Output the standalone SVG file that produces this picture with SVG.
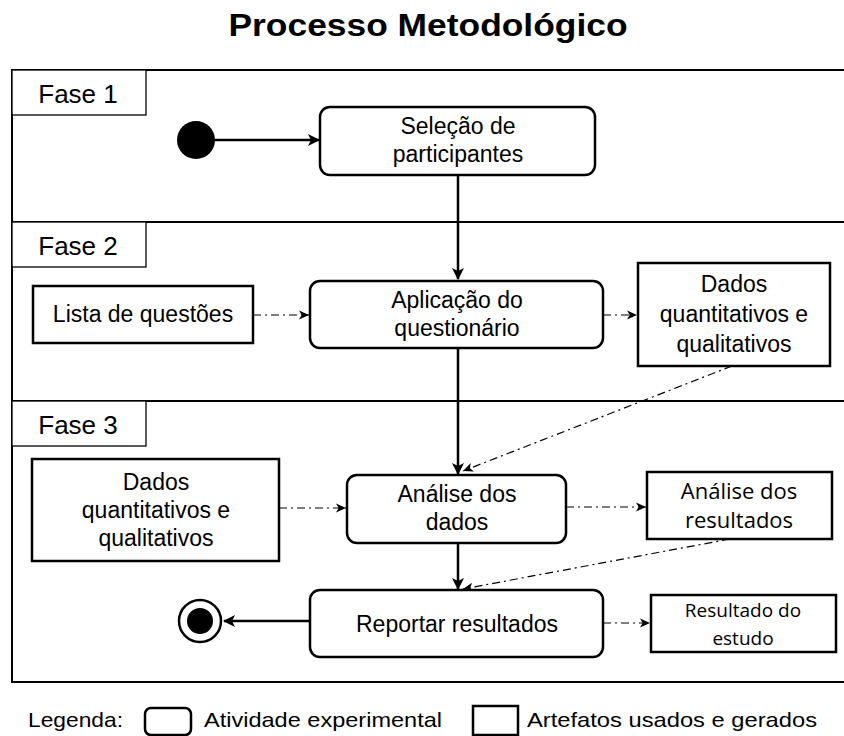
<svg xmlns="http://www.w3.org/2000/svg" width="844" height="736" viewBox="0 0 844 736">
<defs>
<style>
.t{font-family:"Liberation Sans",Arial,sans-serif;font-size:23px;fill:#000;text-anchor:middle}
.s{font-family:"Open Sans","Liberation Sans",sans-serif;font-size:22px;fill:#000;text-anchor:middle}
.f{font-family:"Liberation Sans",Arial,sans-serif;font-size:26px;fill:#000;text-anchor:middle}
.lg{font-family:"Liberation Sans",Arial,sans-serif;font-size:21px;fill:#000}
.act{fill:#fff;stroke:#000;stroke-width:2.5}
.art{fill:#fff;stroke:#000;stroke-width:2.5}
.lane{fill:none;stroke:#000;stroke-width:2}
.lbl{fill:#fff;stroke:#000;stroke-width:1.3}
.flow{fill:none;stroke:#000;stroke-width:2.5}
.obj{fill:none;stroke:#000;stroke-width:1.2;stroke-dasharray:8 4 2 4}
</style>
<marker id="ah" viewBox="0 0 12 12" refX="11" refY="6" markerWidth="12" markerHeight="12" markerUnits="userSpaceOnUse" orient="auto">
<path d="M0,0 L12,6 L0,12 L3,6 Z" fill="#000"/>
</marker>
<marker id="ah2" viewBox="0 0 12 12" refX="11" refY="6" markerWidth="11" markerHeight="11" markerUnits="userSpaceOnUse" orient="auto">
<path d="M0,1 L11,6 L0,11 L3,6 Z" fill="#000"/>
</marker>
</defs>
<rect width="844" height="736" fill="#fff"/>
<text x="428" y="36" textLength="399" lengthAdjust="spacingAndGlyphs" style="font-family:'Liberation Sans',Arial,sans-serif;font-weight:bold;font-size:32px;text-anchor:middle">Processo Metodológico</text>

<g id="lanes">
<path class="lane" d="M850,70 H12 V682 H850"/>
<line class="lane" x1="12" y1="222" x2="850" y2="222"/>
<line class="lane" x1="12" y1="401" x2="850" y2="401"/>
</g>
<g id="fase1"><rect class="lbl" x="12" y="70" width="134" height="45"/><text class="f" x="78" y="103">Fase 1</text></g>
<g id="fase2"><rect class="lbl" x="12" y="222" width="134" height="45"/><text class="f" x="78" y="255">Fase 2</text></g>
<g id="fase3"><rect class="lbl" x="12" y="401" width="134" height="45"/><text class="f" x="78" y="434">Fase 3</text></g>

<g id="connectors">
<line class="flow" x1="215" y1="140" x2="319" y2="140" marker-end="url(#ah)"/>
<line class="flow" x1="458" y1="175" x2="458" y2="279" marker-end="url(#ah)"/>
<line class="obj" x1="253" y1="315" x2="309" y2="315" marker-end="url(#ah2)"/>
<line class="obj" x1="603" y1="315" x2="637" y2="315" marker-end="url(#ah2)"/>
<line class="flow" x1="458" y1="348" x2="458" y2="474" marker-end="url(#ah)"/>
<line class="obj" x1="732" y1="366" x2="463" y2="471" marker-end="url(#ah2)"/>
<line class="obj" x1="279" y1="508" x2="346" y2="508" marker-end="url(#ah2)"/>
<line class="obj" x1="566" y1="507" x2="646" y2="507" marker-end="url(#ah2)"/>
<line class="flow" x1="458" y1="543" x2="458" y2="589" marker-end="url(#ah)"/>
<line class="obj" x1="730" y1="539" x2="463" y2="589" marker-end="url(#ah2)"/>
<line class="flow" x1="310" y1="621" x2="224" y2="621" marker-end="url(#ah)"/>
<line class="obj" x1="603" y1="623" x2="650" y2="623" marker-end="url(#ah2)"/>
</g>

<g id="inicio"><circle cx="196" cy="140" r="19" fill="#000"/></g>
<g id="fim"><circle cx="200" cy="621" r="21" fill="#fff" stroke="#000" stroke-width="2.5"/><circle cx="200" cy="621" r="13" fill="#000"/></g>

<g id="selecao"><rect class="act" x="320" y="107" width="275" height="68" rx="10"/><text class="t" x="458" y="134">Seleção de</text><text class="t" x="458" y="162">participantes</text></g>
<g id="lista"><rect class="art" x="33" y="286" width="220" height="57"/><text class="t" x="143" y="322">Lista de questões</text></g>
<g id="aplicacao"><rect class="act" x="310" y="281" width="293" height="67" rx="10"/><text class="t" x="457" y="308">Aplicação do</text><text class="t" x="457" y="336">questionário</text></g>
<g id="dados2"><rect class="art" x="638" y="263" width="192" height="103"/><text class="t" x="734" y="292">Dados</text><text class="t" x="734" y="322">quantitativos e</text><text class="t" x="734" y="352">qualitativos</text></g>
<g id="dados3"><rect class="art" x="32" y="459" width="247" height="102"/><text class="t" x="156" y="490">Dados</text><text class="t" x="156" y="518">quantitativos e</text><text class="t" x="156" y="546">qualitativos</text></g>
<g id="analise"><rect class="act" x="347" y="475" width="219" height="68" rx="10"/><text class="t" x="457" y="502">Análise dos</text><text class="t" x="457" y="530">dados</text></g>
<g id="analiseres"><rect class="art" x="647" y="472" width="185" height="67"/><text class="s" x="739" y="499">Análise dos</text><text class="s" x="739" y="528">resultados</text></g>
<g id="reportar"><rect class="act" x="310" y="590" width="293" height="67" rx="10"/><text class="t" x="457" y="632">Reportar resultados</text></g>
<g id="resultado"><rect class="art" x="651" y="595" width="185" height="57"/><text class="s" x="743" y="617" style="font-size:19px">Resultado do</text><text class="s" x="743" y="645" style="font-size:19px">estudo</text></g>

<g id="legenda">
<text class="lg" x="28" y="727" textLength="95" lengthAdjust="spacingAndGlyphs">Legenda:</text>
<rect x="145" y="708" width="46" height="27" rx="6" fill="#fff" stroke="#000" stroke-width="2.5"/>
<text class="lg" x="204" y="727" textLength="238" lengthAdjust="spacingAndGlyphs">Atividade experimental</text>
<rect x="473" y="706" width="45" height="29" fill="#fff" stroke="#000" stroke-width="2.5"/>
<text class="lg" x="527" y="727" textLength="290" lengthAdjust="spacingAndGlyphs">Artefatos usados e gerados</text>
</g>
</svg>
